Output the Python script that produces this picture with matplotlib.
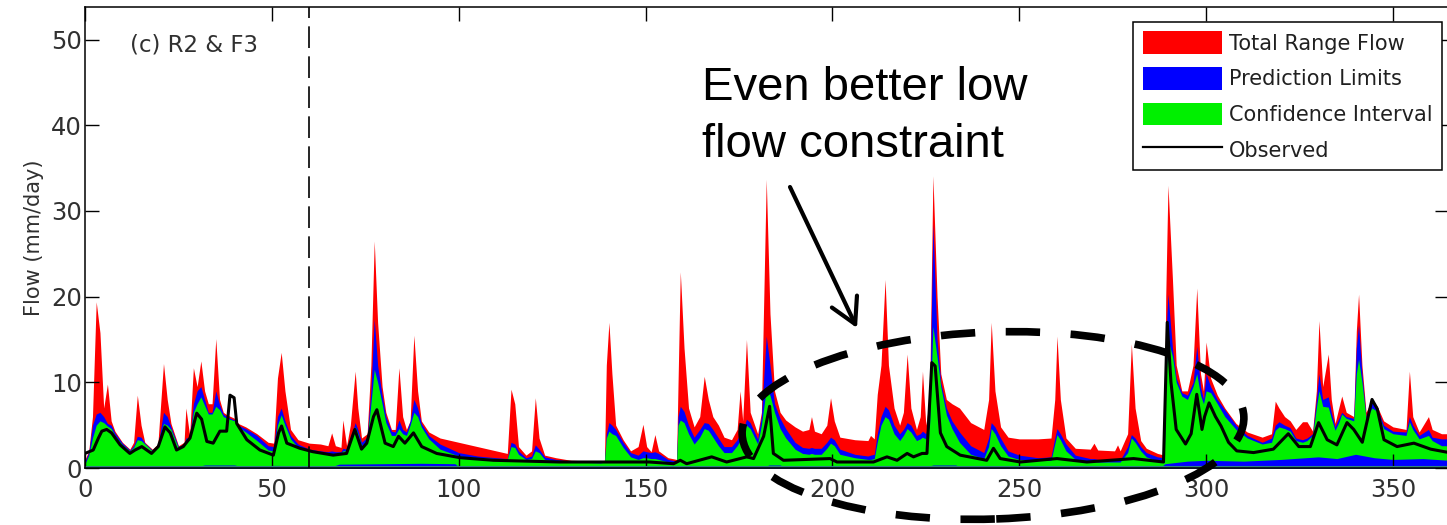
import numpy as np
import matplotlib
matplotlib.use("Agg")
import matplotlib.pyplot as plt
from matplotlib.patches import Patch, Ellipse
from matplotlib.lines import Line2D

# envelope breakpoints (day, upper limits of the three bands)
env_day = [0, 1, 2, 3, 4, 5, 6, 7, 8, 10,
           12, 13, 14, 15, 16, 18, 19.5, 21, 22, 23,
           25, 26.5, 27, 28, 29, 30, 31, 32, 33, 34,
           35, 36, 37, 38, 40, 41, 43, 46, 49, 50.5,
           51.5, 52.5, 53.5, 55, 57, 60, 63, 65, 66, 67,
           68.5, 69, 70, 71, 72.3, 73, 74, 75.5, 76.5, 77.4,
           78.3, 79.5, 80.5, 82, 83, 84, 85, 86, 87, 88,
           89, 90, 92, 95, 100, 105, 110, 113, 114, 115,
           116, 118, 119.5, 120.5, 121.5, 123, 126, 130, 138, 139,
           139.5, 140.2, 141, 142, 144, 146, 148, 149.3, 150.3, 151.5,
           152.5, 153.5, 156, 158.3, 158.7, 159.3, 160.3, 161.5, 163, 164.5,
           165.7, 166.8, 168, 169.5, 171, 173, 174.5, 175.3, 176, 177,
           178, 180, 181, 182.3, 183.3, 184.5, 186, 187.5, 190, 192,
           193.7, 194.4, 195.2, 197, 198.5, 199.5, 200.5, 202, 206, 209.5,
           210.2, 211.2, 212, 213, 214.1, 215, 216.5, 218, 219, 220,
           221, 222.5, 223.5, 224.1, 225, 226, 226.9, 228, 229, 230.5,
           232, 234, 237, 240.5, 241.8, 242.5, 243.5, 245, 247, 250,
           255, 258.5, 259.5, 260.1, 261, 262.5, 265, 269, 270, 271,
           275.5, 276.3, 277, 279, 280, 281, 282.5, 284, 287, 288.8,
           289.2, 289.8, 291, 292, 293.5, 295, 296.5, 297.5, 298.5, 299.3,
           300, 301.2, 303, 305, 308, 311, 315, 317.5, 318.5, 319.5,
           321, 322.5, 324, 325.8, 327, 328.5, 329.5, 330.2, 331.2, 332.7,
           333.5, 334.5, 335.5, 336.3, 337.5, 339.5, 340.2, 340.8, 341.7, 342.8,
           344.4, 345.8, 347.5, 350, 353.5, 354.4, 355.3, 357, 359.5, 360.5,
           363, 365]

total_range = [1.0, 2.0, 6.0, 19.4, 15.8, 7.0, 9.8, 5.5, 4.3, 3.0,
               2.2, 3.0, 8.5, 5.0, 3.0, 2.2, 2.8, 12.2, 8.0, 5.2,
               2.6, 3.0, 7.0, 3.8, 11.7, 9.5, 12.5, 9.0, 7.5, 7.5,
               15.1, 8.0, 6.5, 6.2, 5.8, 5.2, 4.8, 4.0, 3.0, 2.9,
               10.5, 13.5, 9.0, 4.5, 3.3, 2.9, 2.8, 2.6, 4.1, 2.6,
               2.4, 5.6, 2.6, 5.0, 11.3, 7.0, 3.5, 4.0, 12.0, 26.5,
               17.0, 9.5, 6.5, 4.5, 4.5, 11.7, 6.0, 4.5, 5.5, 15.5,
               9.0, 5.5, 4.2, 3.5, 3.0, 2.5, 2.0, 1.7, 9.2, 7.5,
               2.5, 1.5, 2.0, 8.2, 3.5, 1.5, 1.2, 0.9, 0.8, 0.9,
               12.0, 17.0, 11.0, 5.0, 3.3, 2.0, 2.5, 5.1, 2.5, 1.9,
               3.9, 2.0, 1.2, 1.0, 10.0, 22.9, 14.0, 7.0, 4.8, 6.0,
               10.7, 8.0, 6.0, 5.0, 3.6, 3.3, 4.5, 9.0, 5.5, 15.0,
               6.5, 4.0, 6.5, 33.7, 18.0, 9.0, 6.5, 5.6, 4.8, 4.3,
               4.5, 6.0, 4.3, 4.0, 5.0, 8.2, 5.5, 3.6, 3.3, 3.2,
               3.8, 3.4, 8.6, 12.0, 22.0, 12.0, 7.0, 5.0, 6.5, 13.3,
               7.0, 4.5, 6.0, 11.3, 5.0, 8.0, 34.1, 20.0, 11.0, 8.0,
               7.5, 7.0, 5.3, 4.5, 8.0, 17.0, 9.0, 4.8, 3.6, 3.4,
               3.4, 3.5, 8.0, 15.4, 8.0, 3.5, 2.3, 2.2, 2.9, 2.1,
               2.0, 2.7, 2.0, 4.0, 14.5, 7.0, 3.2, 2.3, 1.7, 1.5,
               20.0, 33.0, 22.0, 12.0, 9.0, 9.0, 12.0, 21.0, 11.0, 9.0,
               14.7, 10.5, 8.5, 7.0, 5.2, 4.2, 3.6, 4.0, 7.8, 7.0,
               6.0, 5.5, 4.5, 5.4, 5.4, 4.3, 9.0, 17.2, 9.5, 13.3,
               8.0, 5.2, 7.0, 8.4, 6.5, 6.0, 16.0, 20.3, 12.0, 6.5,
               8.0, 7.2, 5.5, 4.8, 4.5, 11.3, 6.0, 4.2, 6.0, 4.5,
               4.0, 4.0]

pred_limits = [0.8, 1.8, 5.0, 6.3, 6.5, 6.0, 5.2, 5.0, 4.1, 2.9,
               2.1, 2.6, 3.7, 3.6, 2.9, 2.1, 2.6, 6.5, 6.0, 4.8,
               2.5, 2.8, 3.5, 3.5, 7.5, 9.0, 9.5, 8.0, 6.5, 6.5,
               9.0, 7.4, 6.3, 6.0, 5.6, 5.0, 4.6, 3.8, 2.6, 2.5,
               6.0, 7.0, 5.5, 3.8, 2.8, 2.2, 2.0, 1.9, 2.0, 1.9,
               1.9, 2.3, 2.2, 3.5, 5.3, 4.5, 3.0, 3.6, 9.0, 17.4,
               12.0, 8.5, 6.0, 4.3, 4.2, 5.6, 4.5, 4.2, 5.5, 8.0,
               7.0, 5.2, 3.8, 2.8, 1.8, 1.4, 1.2, 1.1, 3.0, 2.8,
               2.0, 1.2, 1.4, 2.7, 2.2, 1.3, 1.0, 0.8, 0.7, 0.8,
               4.0, 5.3, 5.0, 4.5, 3.0, 1.8, 1.5, 2.0, 1.9, 1.8,
               1.9, 1.7, 1.0, 0.8, 6.0, 7.2, 6.6, 5.0, 3.6, 4.5,
               5.3, 5.2, 4.5, 3.5, 2.5, 2.5, 3.3, 4.0, 4.3, 5.7,
               5.3, 3.4, 6.0, 15.4, 12.0, 7.5, 5.8, 4.6, 3.0, 2.4,
               2.3, 2.4, 2.3, 2.3, 3.0, 3.6, 3.3, 2.2, 1.6, 1.4,
               1.5, 1.6, 4.0, 6.0, 7.2, 6.8, 5.0, 4.0, 4.5, 5.3,
               5.0, 3.8, 4.0, 4.3, 4.0, 6.0, 28.5, 15.0, 10.0, 7.0,
               5.5, 4.2, 2.6, 1.8, 3.5, 5.3, 4.8, 3.5, 2.0, 1.5,
               1.2, 1.3, 3.5, 4.6, 4.0, 2.8, 1.5, 1.1, 1.1, 1.0,
               0.9, 0.9, 0.9, 2.5, 3.9, 3.5, 2.5, 1.8, 1.3, 1.2,
               15.0, 20.3, 14.0, 10.5, 8.8, 8.5, 10.0, 14.2, 9.5, 8.0,
               11.0, 9.5, 8.0, 6.8, 5.0, 3.8, 3.0, 3.5, 5.0, 5.4,
               5.0, 4.7, 3.5, 3.3, 3.5, 4.0, 8.0, 11.0, 8.0, 8.3,
               6.5, 4.8, 5.8, 6.5, 6.0, 5.8, 14.0, 16.7, 11.0, 6.0,
               7.8, 7.0, 5.0, 4.3, 4.2, 6.0, 5.0, 3.8, 4.5, 3.6,
               3.4, 3.4]

conf_interval = [0.5, 1.5, 3.5, 5.0, 5.5, 5.3, 4.9, 4.6, 3.8, 2.7,
                 2.0, 2.4, 3.3, 3.2, 2.8, 2.0, 2.5, 5.2, 5.0, 4.5,
                 2.3, 2.6, 3.2, 3.3, 6.5, 7.5, 8.3, 7.3, 6.3, 6.3,
                 7.2, 6.8, 6.0, 5.8, 5.5, 4.8, 4.2, 3.2, 2.1, 2.0,
                 5.0, 6.2, 5.0, 3.4, 2.4, 1.9, 1.7, 1.6, 1.7, 1.6,
                 1.7, 2.0, 2.0, 3.0, 4.8, 4.0, 2.6, 3.2, 7.5, 11.5,
                 10.0, 7.5, 5.3, 3.8, 3.8, 4.6, 4.0, 3.8, 5.0, 6.5,
                 6.0, 4.8, 3.4, 2.2, 1.4, 1.2, 1.1, 1.0, 2.5, 2.4,
                 1.6, 1.0, 1.1, 2.0, 1.8, 1.0, 0.8, 0.7, 0.6, 0.7,
                 3.5, 4.3, 4.0, 3.8, 2.4, 1.3, 1.0, 1.2, 1.2, 1.1,
                 1.1, 1.0, 0.7, 0.6, 5.0, 5.6, 5.3, 4.0, 2.8, 3.6,
                 4.6, 4.4, 3.6, 2.6, 1.8, 1.8, 2.6, 3.2, 3.6, 5.0,
                 4.6, 2.8, 5.0, 9.2, 8.5, 6.5, 4.6, 3.5, 2.2, 1.7,
                 1.6, 1.7, 1.6, 1.6, 2.3, 2.9, 2.6, 1.6, 1.2, 1.0,
                 1.0, 1.1, 3.0, 5.0, 6.0, 5.7, 4.0, 3.2, 3.8, 4.6,
                 4.2, 3.2, 3.4, 3.6, 3.4, 5.0, 16.5, 13.0, 9.5, 6.2,
                 4.6, 3.0, 1.6, 1.1, 2.5, 4.6, 4.0, 2.6, 1.4, 1.0,
                 0.9, 0.9, 2.8, 3.9, 3.3, 2.0, 1.0, 0.8, 0.8, 0.7,
                 0.7, 0.7, 0.7, 1.8, 3.5, 3.0, 2.0, 1.3, 0.8, 0.7,
                 10.0, 15.0, 13.0, 10.0, 8.4, 8.0, 9.5, 11.0, 8.5, 7.5,
                 9.0, 8.8, 7.5, 6.0, 4.5, 3.5, 2.8, 3.0, 4.4, 4.8,
                 4.6, 4.3, 3.2, 3.0, 3.2, 3.8, 7.0, 9.0, 7.2, 7.1,
                 5.8, 4.4, 5.3, 6.3, 5.8, 5.5, 11.0, 12.7, 10.0, 5.8,
                 7.0, 6.6, 4.6, 4.0, 3.8, 5.4, 4.5, 3.4, 3.8, 3.2,
                 2.6, 2.6]

# lower prediction band showing under the confidence interval
low_day = [0, 30, 32, 34, 40, 42, 48, 50, 52, 56,
           66, 68, 80, 90, 99, 100, 182, 183, 186, 187,
           225, 227, 233, 234, 288, 289, 295, 300, 310, 320,
           330, 335, 340, 345, 350, 358, 365]
low_band = [0.15, 0.15, 0.35, 0.35, 0.35, 0.15, 0.15, 0.3, 0.3, 0.15,
            0.15, 0.45, 0.5, 0.55, 0.5, 0.15, 0.15, 0.35, 0.35, 0.15,
            0.15, 0.35, 0.35, 0.15, 0.15, 0.5, 0.8, 0.9, 0.8, 1.0,
            1.3, 1.1, 1.6, 1.2, 1.0, 1.1, 0.9]

obs_day = [0, 2.2, 3.6, 4.5, 5.8, 7.1, 9.4, 12, 13.4, 15.2,
           17.8, 19.6, 21.4, 22.8, 24.5, 26.3, 28.1, 29.9, 31.2, 32.6,
           34.3, 36.1, 37.9, 38.8, 39.9, 40.6, 43.3, 46.8, 50.4, 51.8,
           52.6, 54, 57.5, 61, 66.4, 70, 72.2, 74, 75.4, 77.2,
           78.1, 79, 80.3, 82.5, 83.9, 85.6, 87.9, 90.1, 94.1, 100.4,
           109.3, 127, 140.5, 151, 157.5, 159.3, 161, 167.7, 171.7, 177.1,
           178.9, 181.6, 183.2, 184.2, 186.9, 199.4, 201.2, 211, 214.6, 217.3,
           220, 221.7, 224, 225.3, 226.6, 227.5, 228.9, 230.6, 234.2, 241.3,
           243.1, 244.9, 250.3, 260.1, 268.1, 280.6, 288.6, 289.6, 290.6, 292,
           294.5, 296, 297.5, 298.9, 299.6, 300.8, 302.5, 304, 306, 308.2,
           312.7, 318, 322, 324.8, 327.9, 330.1, 332.4, 335, 337.7, 339.5,
           341.8, 344.4, 345.8, 347.6, 351.1, 355.6, 360.1, 365]
observed = [1.7, 2.1, 3.5, 4.3, 4.5, 4.1, 2.7, 1.7, 2.1, 2.5,
            1.7, 2.5, 4.8, 4.1, 2.1, 2.5, 3.5, 6.4, 5.7, 3.1,
            2.9, 4.3, 4.3, 8.5, 8.2, 5.2, 3.3, 2.1, 1.5, 4.1,
            4.9, 2.9, 2.3, 1.9, 1.5, 1.7, 4.5, 2.2, 2.9, 6.0,
            6.8, 5.2, 2.9, 2.5, 3.7, 2.9, 4.1, 2.5, 1.7, 1.2,
            0.9, 0.7, 0.7, 0.7, 0.5, 0.9, 0.5, 1.3, 0.7, 1.3,
            1.1, 3.7, 7.2, 1.7, 0.9, 1.1, 0.7, 0.7, 1.3, 0.9,
            1.7, 1.3, 1.7, 1.7, 12.3, 11.9, 4.1, 2.5, 1.5, 0.9,
            2.3, 1.1, 0.7, 1.1, 0.7, 1.1, 0.7, 17.0, 10.0, 4.5,
            2.8, 4.0, 8.6, 4.5, 6.0, 7.6, 6.0, 4.9, 3.0, 2.0,
            1.8, 2.2, 4.0, 2.5, 2.5, 5.3, 3.3, 2.7, 5.3, 4.5,
            3.0, 8.0, 6.9, 3.3, 2.5, 2.9, 2.2, 1.8]

RED = "#ff0000"
BLUE = "#0000ff"
GREEN = "#00f000"

plt.rcParams["font.family"] = "DejaVu Sans"

fig = plt.figure(figsize=(14.47, 5.25), dpi=100)
ax = fig.add_axes([85 / 1447, 57 / 525, 1364 / 1447, 461 / 525])

ax.fill_between(env_day, 0, total_range, color=RED, lw=0)
ax.fill_between(env_day, 0, pred_limits, color=BLUE, lw=0)
ax.fill_between(env_day, 0, conf_interval, color=GREEN, lw=0)
ax.fill_between(low_day, 0, low_band, color=BLUE, lw=0)
ax.axhline(0.12, color="#2f8080", lw=1.5)
ax.plot(obs_day, observed, color="k", lw=2.2)

ax.axvline(60, color="k", lw=1.2, ls=(0, (13, 5)))

ax.set_xlim(0, 365)
ax.set_ylim(0, 53.8)
ax.set_xticks(np.arange(0, 351, 50))
ax.set_yticks(np.arange(0, 51, 10))
ax.tick_params(direction="in", length=10, width=1, top=True, right=True,
               labelsize=17.5, labelcolor="#303030", pad=2)
ax.tick_params(axis="x", pad=7)
for s in ax.spines.values():
    s.set_linewidth(1.1)
ax.set_ylabel("Flow (mm/day)", fontsize=15, labelpad=5, color="#303030")

handles = [Patch(facecolor=RED, edgecolor="none"),
           Patch(facecolor=BLUE, edgecolor="none"),
           Patch(facecolor=GREEN, edgecolor="none"),
           Line2D([], [], color="k", lw=1.6)]
labels = ["Total Range Flow", "Prediction Limits", "Confidence Interval", "Observed"]
leg = ax.legend(handles, labels, loc="upper right",
                bbox_to_anchor=(1442 / 1447, 1 - 22 / 525),
                bbox_transform=fig.transFigure, borderaxespad=0,
                fontsize=15, handlelength=3.8, handleheight=1.3,
                handletextpad=0.35, labelspacing=0.62, borderpad=0.45,
                fancybox=False, framealpha=1, edgecolor="k")
leg.get_frame().set_linewidth(1.1)
for t in leg.get_texts():
    t.set_color("#202020")

fig.text(130 / 1447, 1 - 52 / 525, "(c) R2 & F3", fontsize=16.5,
         va="baseline", color="#303030")

# slide annotation
fig.text(702 / 1447, 1 - 100 / 525, "Even better low", fontsize=34,
         family="Liberation Sans", va="baseline")
fig.text(702 / 1447, 1 - 157 / 525, "flow constraint", fontsize=34,
         family="Liberation Sans", va="baseline")
ax.annotate("", xy=(857, 525 - 328), xycoords="figure pixels",
            xytext=(790, 525 - 187), textcoords="figure pixels",
            arrowprops=dict(arrowstyle="->,head_length=0.9,head_width=0.5",
                            lw=3, color="k", mutation_scale=20,
                            shrinkA=0, shrinkB=0))
ell = Ellipse((9.93, 0.995), 5.02, 1.87, angle=2, transform=fig.dpi_scale_trans,
              fill=False, ec="k", lw=5.5, ls=(0, (4.5, 4)), clip_on=False)
fig.add_artist(ell)

fig.savefig("out.png", dpi=100)
